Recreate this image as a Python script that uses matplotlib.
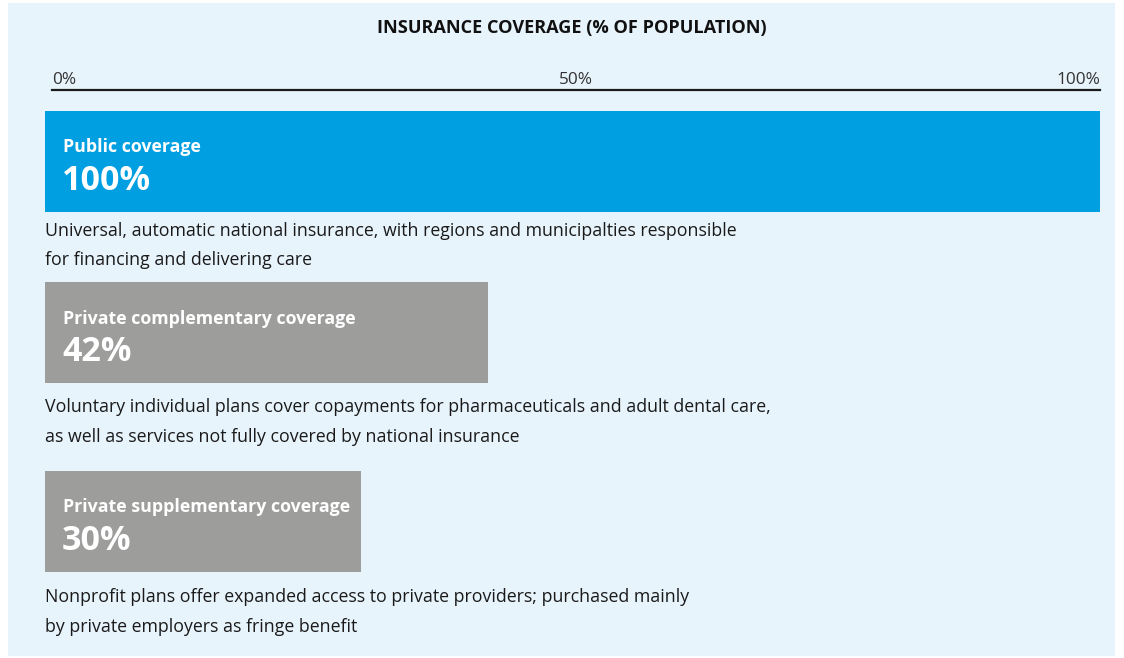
import matplotlib
matplotlib.use("Agg")
import matplotlib.pyplot as plt
from matplotlib.patches import Rectangle

# ---- data ----
categories = ["Public coverage", "Private complementary coverage", "Private supplementary coverage"]
values = [100, 42, 30]
value_labels = ["100%", "42%", "30%"]
descriptions = [
    "Universal, automatic national insurance, with regions and municipalties responsible\nfor financing and delivering care",
    "Voluntary individual plans cover copayments for pharmaceuticals and adult dental care,\nas well as services not fully covered by national insurance",
    "Nonprofit plans offer expanded access to private providers; purchased mainly\nby private employers as fringe benefit",
]
bar_colors = ["#009FE1", "#9D9D9C", "#9D9D9C"]
tick_values = [0, 50, 100]
tick_labels = ["0%", "50%", "100%"]
title = "INSURANCE COVERAGE (% OF POPULATION)"

FONT = "Open Sans"
plt.rcParams["font.family"] = [FONT, "DejaVu Sans"]

W, H = 1124, 658
fig = plt.figure(figsize=(W / 100, H / 100), dpi=100)
fig.patch.set_facecolor("white")

# light blue panel
fig.patches.append(Rectangle((8 / W, 1 - 656 / H), (1115 - 8) / W, (656 - 3) / H,
                             transform=fig.transFigure, facecolor="#E8F4FC",
                             edgecolor="none", zorder=-10))

# title
fig.text(572 / W, 1 - 32.5 / H, title, ha="center", va="baseline",
         fontsize=13.1, fontweight="bold", color="#111111")

# top scale axis
sx0, sx1 = 52, 1100
sax = fig.add_axes([sx0 / W, 1 - 90 / H, (sx1 - sx0) / W, 0.0001])
sax.set_facecolor("none")
sax.set_xlim(0, 100)
for s in ["left", "right", "bottom"]:
    sax.spines[s].set_visible(False)
sax.spines["top"].set_linewidth(1.6)
sax.spines["top"].set_color("#1a1a1a")
sax.set_yticks([])
sax.xaxis.tick_top()
sax.set_xticks(tick_values)
sax.set_xticklabels(tick_labels, fontsize=12.4, color="#333333")
sax.tick_params(axis="x", length=0, pad=1.5)
labs = sax.get_xticklabels()
labs[0].set_ha("left")
labs[-1].set_ha("right")

# main bar axes: y in pixel units
bx0, bx1 = 44.5, 1100
ax = fig.add_axes([bx0 / W, 0, (bx1 - bx0) / W, 1])
ax.set_facecolor("none")
ax.set_xlim(0, 100)
ax.set_ylim(H, 0)
ax.axis("off")

bar_tops = [111, 282, 471]
bar_h = 101
desc_offsets = [24, 29.3, 30.5]
line_gap = 29.4
pad_x = (63 - bx0) / (bx1 - bx0) * 100
for i, (cat, v, vl, desc, c) in enumerate(zip(categories, values, value_labels, descriptions, bar_colors)):
    top = bar_tops[i]
    ax.barh(top + bar_h / 2, v, height=bar_h, left=0, color=c, edgecolor="none")
    ax.text(pad_x, top + 41.5, cat, ha="left", va="baseline", fontsize=12.8,
            fontweight="bold", color="white")
    ax.text(pad_x - 0.1, top + 79, vl, ha="left", va="baseline", fontsize=24.5,
            fontweight="bold", color="white")
    for j, line in enumerate(desc.split("\n")):
        ax.text(0.05, top + bar_h + desc_offsets[i] + j * line_gap, line,
                ha="left", va="baseline", fontsize=12.8, color="#1a1a1a")

fig.savefig("out.png", dpi=100, facecolor=fig.get_facecolor())
